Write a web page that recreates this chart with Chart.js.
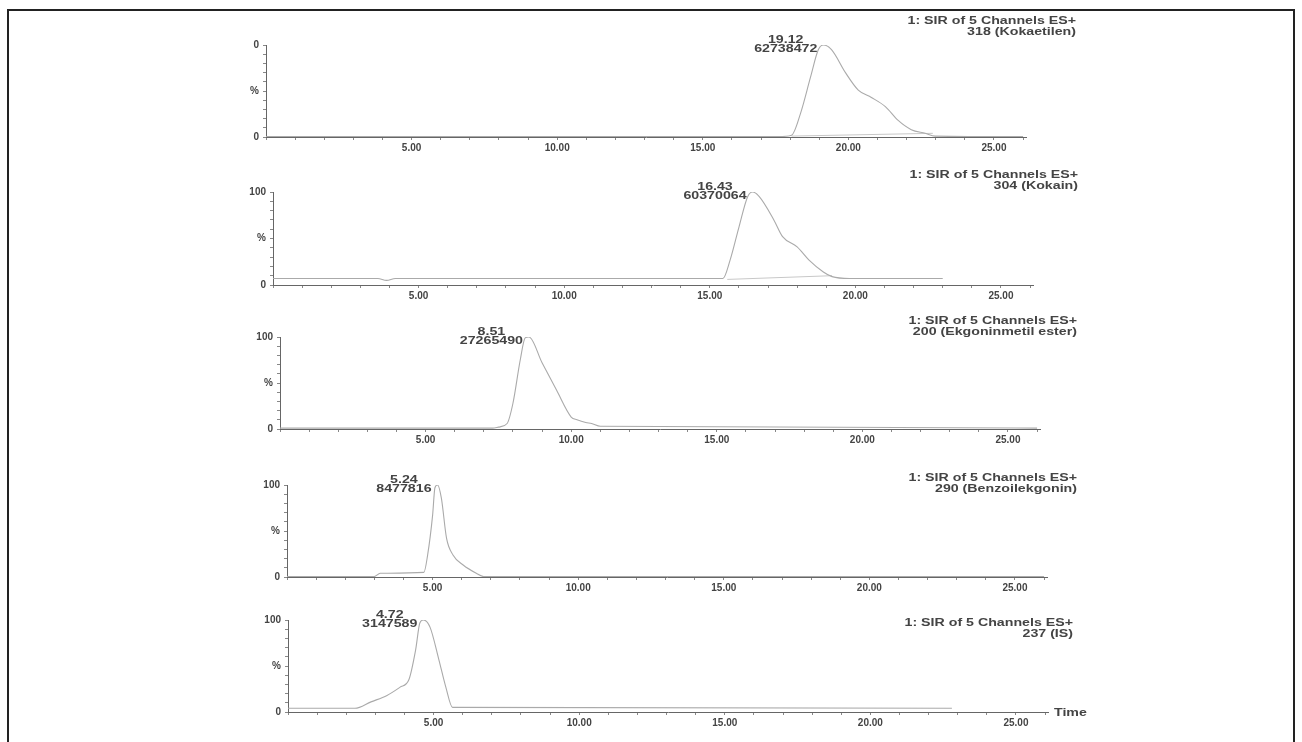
<!DOCTYPE html>
<html>
<head>
<meta charset="utf-8">
<script src="https://cdn.jsdelivr.net/npm/chart.js@4/dist/chart.umd.min.js"></script>
<style>
  html, body { margin: 0; padding: 0; background: #fff; width: 1302px; height: 742px; overflow: hidden; }
  #frame { position: absolute; left: 7px; top: 9px; width: 1284px; height: 760px;
           border: 2px solid #222; border-bottom: none; }
  canvas { position: absolute; }
</style>
</head>
<body>
<div id="frame"></div>

<script>
// ---------------- DATA ----------------
const xTickValues = [5, 10, 15, 20, 25];
const xTickText = ['5.00', '10.00', '15.00', '20.00', '25.00'];
const yTickValues = [0, 50, 100];
const yTickText1 = ['0', '%', '0'];
const yTickText = ['0', '%', '100'];

const channelLine1 = '1: SIR of 5 Channels ES+';
const channelLine2 = ['318 (Kokaetilen)', '304 (Kokain)', '200 (Ekgoninmetil ester)', '290 (Benzoilekgonin)', '237 (IS)'];
const peakRT = ['19.12', '16.43', '8.51', '5.24', '4.72'];
const peakArea = ['62738472', '60370064', '27265490', '8477816', '3147589'];
const axisTitle = 'Time';

// Panel 1: 318 (Kokaetilen)
const time1 = [0, 10, 17.6, 18.05, 18.36, 18.70, 18.97, 19.14, 19.42, 19.90, 20.34, 20.79, 21.27, 21.71, 22.16, 22.64, 22.98, 26];
const int1  = [0.4, 0.4, 0.4, 2, 26, 65, 95, 100, 95, 70, 51, 43, 33, 18, 8, 4, 1, 0.4];
const base1Time = [18.05, 22.9];
const base1Int  = [1, 4];

// Panel 2: 304 (Kokain)
const time2 = [0, 3.6, 3.9, 4.2, 15.45, 15.7, 16.0, 16.3, 16.47, 16.7, 17.2, 17.5, 18.0, 18.4, 18.9, 19.2, 19.8, 23.0];
const int2  = [7, 7, 5, 7, 7, 27, 62, 95, 100, 95, 70, 52, 41, 27, 14, 9, 7, 7];
const base2Time = [15.6, 19.2];
const base2Int  = [6, 10];

// Panel 3: 200 (Ekgoninmetil ester)
const time3 = [0, 7.3, 7.5, 7.8, 8.0, 8.25, 8.42, 8.55, 9.0, 9.5, 10.0, 10.2, 10.5, 10.7, 11.0, 26];
const int3  = [1, 1, 2, 6, 28, 75, 99, 100, 72, 42, 13, 10, 7, 6, 3, 1];

// Panel 4: 290 (Benzoilekgonin)
const time4 = [0, 3.0, 3.2, 4.7, 4.83, 5.0, 5.08, 5.17, 5.3, 5.48, 5.7, 6.05, 6.5, 6.75, 26];
const int4  = [0.5, 0.5, 4, 5, 24, 67, 97, 100, 86, 42, 24, 13, 4, 0.5, 0.5];

// Panel 5: 237 (IS)
const time5 = [0, 2.3, 2.85, 3.4, 3.85, 4.15, 4.38, 4.53, 4.65, 4.88, 5.18, 5.42, 5.65, 22.8];
const int5  = [4, 4, 11, 18, 27, 35, 67, 97, 100, 92, 57, 27, 5, 4];

// ---------------- LAYOUT ----------------
const X_MAX = 26.1;
const PLOT_W = 760;
const AXIS_W = 50, TOP_PAD = 50, XAXIS_H = 22;
const TEXT_SX = 1.42;
const FONT = 'bold 10px "Liberation Sans", Arial, sans-serif';
const LINE_GAP = 11;
const TICK_FONT = { family: '"Liberation Sans", Arial, sans-serif', size: 10, weight: 'bold' };

const panels = [
  { axisX: 266, yTop: 45,  yBot: 137, t: time1, v: int1, bt: base1Time, bv: base1Int, yLab: yTickText1, lab: [1076, 21] },
  { axisX: 273, yTop: 192, yBot: 285, t: time2, v: int2, bt: base2Time, bv: base2Int, yLab: yTickText,  lab: [1078, 175] },
  { axisX: 280, yTop: 337, yBot: 429, t: time3, v: int3, bt: null, bv: null, yLab: yTickText, lab: [1077, 321] },
  { axisX: 287, yTop: 485, yBot: 577, t: time4, v: int4, bt: null, bv: null, yLab: yTickText, lab: [1077, 478] },
  { axisX: 288, yTop: 620, yBot: 712, t: time5, v: int5, bt: null, bv: null, yLab: yTickText, lab: [1073, 623], time: [1054, 713] }
];

function stretchText(ctx, text, x, y, align) {
  ctx.save();
  ctx.font = FONT;
  ctx.textAlign = align;
  ctx.textBaseline = 'middle';
  ctx.translate(x, y);
  ctx.scale(TEXT_SX, 1);
  ctx.fillText(text, 0, 0);
  ctx.restore();
}
function textW(ctx, text) {
  ctx.save(); ctx.font = FONT; const w = ctx.measureText(text).width * TEXT_SX; ctx.restore(); return w;
}

panels.forEach((p, k) => {
  const left = p.axisX - AXIS_W;
  const top = p.yTop - TOP_PAD;
  const h = p.yBot - p.yTop;
  const cw = 1302 - left;
  const ch = TOP_PAD + h + XAXIS_H;
  const cv = document.createElement('canvas');
  cv.width = cw; cv.height = ch;
  cv.style.left = left + 'px'; cv.style.top = top + 'px';
  cv.style.width = cw + 'px'; cv.style.height = ch + 'px';
  document.body.appendChild(cv);

  const datasets = [{
    data: p.t.map((t, i) => ({ x: t, y: p.v[i] })),
    borderColor: '#aaaaaa', borderWidth: 1.1, pointRadius: 0,
    cubicInterpolationMode: 'monotone', fill: false
  }];
  if (p.bt) {
    datasets.push({
      data: p.bt.map((t, i) => ({ x: t, y: p.bv[i] })),
      borderColor: '#c8c8c8', borderWidth: 1, pointRadius: 0, fill: false
    });
  }

  const textPlugin = {
    id: 'txt' + k,
    afterDraw(chart) {
      const ctx = chart.ctx;
      const xs = chart.scales.x, ys = chart.scales.y;
      ctx.fillStyle = '#444';
      // peak annotation
      let mi = 0;
      p.v.forEach((val, i) => { if (val > p.v[mi]) mi = i; });
      const px = xs.getPixelForValue(p.t[mi]);
      const py = ys.getPixelForValue(p.v[mi]);
      const w2 = textW(ctx, peakArea[k]);
      const cx = px - 6 - w2 / 2;
      stretchText(ctx, peakRT[k], cx, py - 5, 'center');
      stretchText(ctx, peakArea[k], cx, py + 4, 'center');
      // channel label
      stretchText(ctx, channelLine1, p.lab[0] - left, p.lab[1] - top, 'right');
      stretchText(ctx, channelLine2[k], p.lab[0] - left, p.lab[1] + LINE_GAP - top, 'right');
      if (p.time) stretchText(ctx, axisTitle, p.time[0] - left, p.time[1] - top, 'left');
    }
  };

  new Chart(cv, {
    type: 'line',
    data: { datasets },
    plugins: [textPlugin],
    options: {
      responsive: false, animation: false, devicePixelRatio: 1,
      layout: { padding: { left: 0, top: TOP_PAD, right: cw - AXIS_W - PLOT_W, bottom: 0 } },
      plugins: { legend: { display: false }, tooltip: { enabled: false } },
      scales: {
        x: {
          type: 'linear', min: 0, max: X_MAX,
          afterFit: s => { s.height = XAXIS_H; },
          border: { display: true, color: '#666', width: 1 },
          grid: { drawOnChartArea: false, tickLength: 3, color: '#888' },
          ticks: {
            stepSize: 1, autoSkip: false, maxRotation: 0, includeBounds: false, padding: 2,
            color: '#444', font: TICK_FONT,
            callback: v => { const i = xTickValues.indexOf(v); return i >= 0 ? xTickText[i] : ''; }
          }
        },
        y: {
          min: 0, max: 100,
          afterFit: s => { s.width = AXIS_W; },
          border: { display: true, color: '#666', width: 1 },
          grid: { drawOnChartArea: false, tickLength: 3, color: '#888' },
          ticks: {
            stepSize: 10, autoSkip: false, padding: 4,
            color: '#444', font: TICK_FONT,
            callback: v => { const i = yTickValues.indexOf(v); return i >= 0 ? p.yLab[i] : ''; }
          }
        }
      }
    }
  });
});
</script>
</body>
</html>
